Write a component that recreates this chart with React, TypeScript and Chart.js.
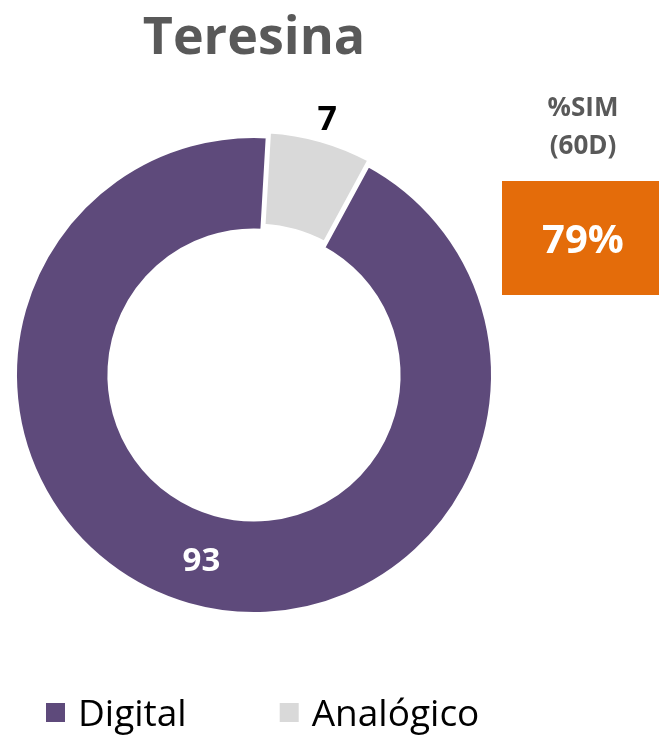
import React, { useEffect, useRef } from "react";
import { Chart, registerables } from "chart.js";

Chart.register(...registerables);

const TITLE = "Teresina";
const CATEGORIES = ["Digital", "Analógico"];
const VALUES = [93, 7];
const COLORS = ["#5E4A7B", "#D9D9D9"];
const SLICE_OFFSETS = [0, 13];
const LABEL_COLORS = ["#FFFFFF", "#000000"];
const KPI_LABEL = ["%SIM", "(60D)"];
const KPI_VALUE = "79%";

const FONT = "'Open Sans', 'DejaVu Sans', sans-serif";

const sliceLabels = {
  id: "sliceLabels",
  afterDatasetsDraw(chart: any) {
    const meta = chart.getDatasetMeta(0);
    const ctx = chart.ctx;
    const total = VALUES.reduce((a, b) => a + b, 0);
    meta.data.forEach((arc: any, i: number) => {
      const p = arc.getProps(["x", "y", "startAngle", "endAngle", "innerRadius", "outerRadius"], true);
      const mid = (p.startAngle + p.endAngle) / 2;
      const inside = VALUES[i] / total > 0.15;
      const r = inside ? (p.innerRadius + p.outerRadius) / 2 : p.outerRadius + 28;
      const size = inside ? 33 : 34;
      const cx = p.x + Math.cos(mid) * r;
      const cy = p.y + Math.sin(mid) * r;
      ctx.save();
      ctx.font = `bold ${size}px ${FONT}`;
      ctx.fillStyle = LABEL_COLORS[i];
      ctx.textAlign = "center";
      ctx.textBaseline = "alphabetic";
      ctx.fillText(String(VALUES[i]), cx, cy + size * 0.357);
      ctx.restore();
    });
  },
};

// Legend drawn from the chart's own legend items (labels + colours)
const bottomLegend = {
  id: "bottomLegend",
  afterDraw(chart: any) {
    const ctx = chart.ctx;
    const items = chart.options.plugins.legend.labels.generateLabels(chart);
    const fontSize = 37;
    const box = 19;
    const textGap = 13;
    const itemGap = 93;
    const baseline = 726;
    let x = 46;
    ctx.save();
    ctx.font = `${fontSize}px ${FONT}`;
    ctx.textAlign = "left";
    ctx.textBaseline = "alphabetic";
    items.forEach((it: any) => {
      ctx.fillStyle = it.fillStyle;
      ctx.fillRect(x, baseline - 23, box, box);
      x += box + textGap;
      ctx.fillStyle = "#000000";
      ctx.fillText(it.text, x, baseline);
      x += ctx.measureText(it.text).width + itemGap;
    });
    ctx.restore();
  },
};

const kpiBox = {
  id: "kpiBox",
  afterDraw(chart: any) {
    const ctx = chart.ctx;
    ctx.save();
    ctx.textAlign = "center";
    ctx.textBaseline = "alphabetic";
    ctx.fillStyle = "#595959";
    ctx.font = `bold 26px ${FONT}`;
    ctx.fillText(KPI_LABEL[0], 583, 116);
    ctx.fillText(KPI_LABEL[1], 583, 154);
    ctx.fillStyle = "#E46C0A";
    ctx.fillRect(502, 181, 157, 114);
    ctx.fillStyle = "#FFFFFF";
    ctx.font = `bold 40px ${FONT}`;
    ctx.fillText(KPI_VALUE, 583, 253);
    ctx.restore();
  },
};

export default function App() {
  const ref = useRef<HTMLCanvasElement | null>(null);
  useEffect(() => {
    if (!ref.current) return;
    const baseGen = (Chart as any).overrides.doughnut.plugins.legend.labels.generateLabels;
    const chart = new Chart(ref.current, {
      type: "doughnut",
      data: {
        labels: CATEGORIES,
        datasets: [
          {
            data: VALUES,
            backgroundColor: COLORS,
            borderColor: "#FFFFFF",
            borderWidth: 4,
            offset: SLICE_OFFSETS,
            hoverOffset: 0,
          } as any,
        ],
      },
      options: {
        responsive: false,
        animation: false,
        rotation: 28.5,
        cutout: "60.5%",
        radius: 239,
        layout: { padding: { left: 0, right: 151, top: 0, bottom: 132 } },
        plugins: {
          title: {
            display: true,
            text: TITLE,
            color: "#595959",
            font: { family: FONT, size: 52, weight: "bold", lineHeight: 1.2 },
            padding: { top: 8, bottom: 76.6 },
          },
          legend: {
            display: false,
            labels: {
              generateLabels: (c: any) => baseGen(c),
            },
          },
          tooltip: { enabled: false },
        },
      } as any,
      plugins: [sliceLabels, bottomLegend, kpiBox],
    });
    return () => chart.destroy();
  }, []);

  return (
    <div
      style={{
        position: "fixed",
        left: 0,
        top: 0,
        width: 659,
        height: 735,
        overflow: "hidden",
        background: "#FFFFFF",
      }}
    >
      <canvas ref={ref} width={659} height={735} style={{ display: "block" }} />
    </div>
  );
}
